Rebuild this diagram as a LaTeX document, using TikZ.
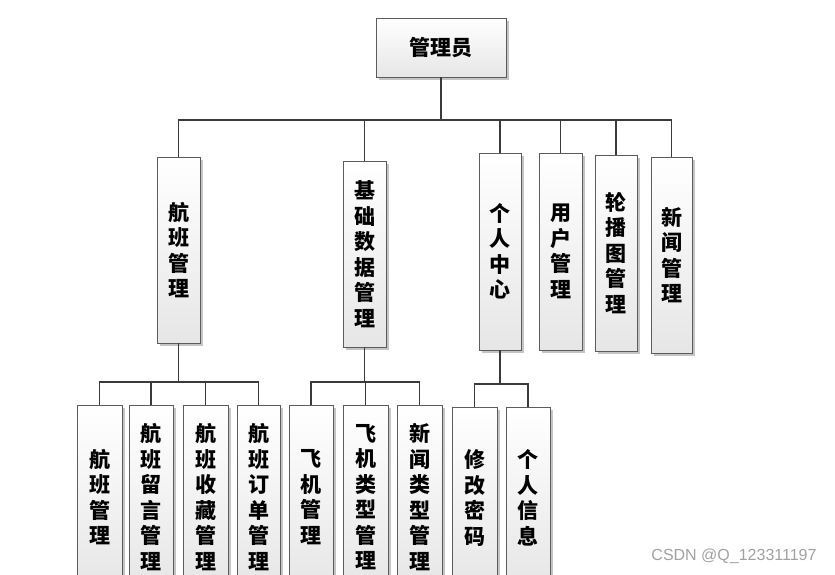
\documentclass[tikz,border=0pt]{standalone}
\usepackage{fontspec}
\setmainfont{Liberation Sans}
\newfontfamily\cjk{Noto Sans CJK SC}
\usetikzlibrary{shadows}
\definecolor{boxline}{HTML}{5C5C5C}
\definecolor{boxbot}{HTML}{E6E6E6}
\definecolor{linec}{HTML}{3A3A3A}
\definecolor{shadowc}{HTML}{C4C4C4}
\definecolor{wmc}{HTML}{A0A0A0}
\begin{document}
\begin{tikzpicture}[x=1pt,y=-1pt,
  box/.style={draw=boxline, line width=0.9pt, top color=white, bottom color=boxbot,
    drop shadow={shadow xshift=2.5pt, shadow yshift=-2.5pt, fill=shadowc, opacity=1},
    inner sep=0pt, align=center, font=\cjk\bfseries\fontsize{21}{25.5}\selectfont},
  conn/.style={draw=linec, line width=1.4pt}]
\useasboundingbox (0,0) rectangle (835,574);
\clip (0,0) rectangle (835,574);
% level 1
\node[box, minimum width=130pt, minimum height=59pt] (admin) at (441,47.5) {管理员};
% level 2
\node[box, minimum width=43pt, minimum height=186pt] (hb) at (178.5,250) {航\\班\\管\\理};
\node[box, minimum width=43pt, minimum height=186pt] (jc) at (364.5,254) {基\\础\\数\\据\\管\\理};
\node[box, minimum width=42pt, minimum height=197pt] (gr) at (500,251.5) {个\\人\\中\\心};
\node[box, minimum width=43pt, minimum height=197pt] (yh) at (560.5,251.5) {用\\户\\管\\理};
\node[box, minimum width=42pt, minimum height=196pt] (lb) at (616,253) {轮\\播\\图\\管\\理};
\node[box, minimum width=41pt, minimum height=196pt] (xw) at (671.5,255) {新\\闻\\管\\理};
% level 3
\node[box, minimum width=45pt, minimum height=184pt] (a1) at (99.5,497) {航\\班\\管\\理};
\node[box, minimum width=44pt, minimum height=184pt] (a2) at (151,497) {航\\班\\留\\言\\管\\理};
\node[box, minimum width=45pt, minimum height=184pt] (a3) at (205.5,497) {航\\班\\收\\藏\\管\\理};
\node[box, minimum width=43pt, minimum height=184pt] (a4) at (258.5,497) {航\\班\\订\\单\\管\\理};
\node[box, minimum width=44pt, minimum height=184pt] (b1) at (311,497) {飞\\机\\管\\理};
\node[box, minimum width=45pt, minimum height=184pt] (b2) at (365.5,497) {飞\\机\\类\\型\\管\\理};
\node[box, minimum width=45pt, minimum height=184pt] (b3) at (419.5,497) {新\\闻\\类\\型\\管\\理};
\node[box, minimum width=45pt, minimum height=182pt] (c1) at (474.5,498) {修\\改\\密\\码};
\node[box, minimum width=44pt, minimum height=182pt] (c2) at (528,498) {个\\人\\信\\息};
% buses
\coordinate (bus1) at (441,120);
\coordinate (busA) at (178.5,382);
\coordinate (busB) at (364.5,382);
\coordinate (busC) at (500,384);
% connectors level 1-2
\draw[conn] (admin.south) -- (bus1);
\foreach \n in {hb,jc,gr,yh,lb,xw} \draw[conn] (\n.north) |- (bus1);
% level 2-3
\draw[conn] (hb.south) -- (busA);
\foreach \n in {a1,a2,a3,a4} \draw[conn] (\n.north) |- (busA);
\draw[conn] (jc.south) -- (busB);
\foreach \n in {b1,b2,b3} \draw[conn] (\n.north) |- (busB);
\draw[conn] (gr.south) -- (busC);
\foreach \n in {c1,c2} \draw[conn] (\n.north) |- (busC);
% watermark
\node[text=wmc, font=\fontsize{16}{16}\selectfont, inner sep=0pt] (wm) at (734,556) {CSDN @Q\_123311197};
\end{tikzpicture}
\end{document}
